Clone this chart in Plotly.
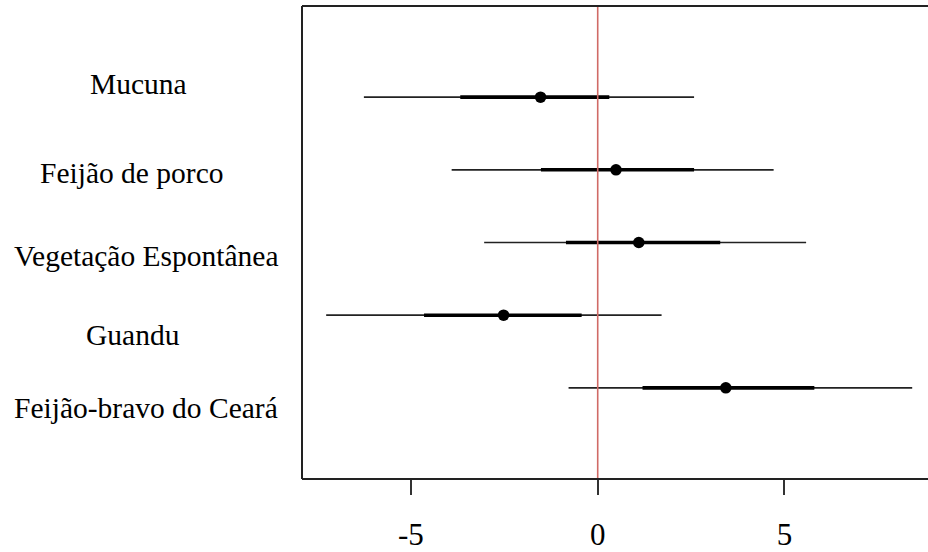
import plotly.graph_objects as go

# Coefficient estimates with inner (thick) and outer (thin) intervals
categories = ["Mucuna", "Feijão de porco", "Vegetação Espontânea", "Guandu", "Feijão-bravo do Ceará"]
estimate = [-1.53, 0.49, 1.10, -2.52, 3.43]
inner_lo = [-3.68, -1.52, -0.85, -4.65, 1.20]
inner_hi = [0.31, 2.58, 3.28, -0.43, 5.80]
outer_lo = [-6.26, -3.91, -3.04, -7.27, -0.78]
outer_hi = [2.58, 4.71, 5.58, 1.71, 8.42]
tick_vals = [-5, 0, 5]
tick_text = ["-5", "0", "5"]

n = len(categories)
rows = [n - i for i in range(n)]  # top row first

SERIF = "Liberation Serif, Times New Roman, serif"

def segments(lo, hi, ys):
    xs, yy = [], []
    for a, b, y in zip(lo, hi, ys):
        xs += [a, b, None]
        yy += [y, y, None]
    return xs, yy

fig = go.Figure()

ox, oy = segments(outer_lo, outer_hi, rows)
fig.add_trace(go.Scatter(x=ox, y=oy, mode="lines",
                         line=dict(color="#222222", width=1.7), hoverinfo="skip"))
ix, iy = segments(inner_lo, inner_hi, rows)
fig.add_trace(go.Scatter(x=ix, y=iy, mode="lines",
                         line=dict(color="#000000", width=3.6), hoverinfo="skip"))
fig.add_trace(go.Scatter(x=estimate, y=rows, mode="markers",
                         marker=dict(color="#000000", size=11.5),
                         text=categories, hovertemplate="%{text}: %{x}<extra></extra>"))

# zero reference line
fig.add_shape(type="line", xref="x", yref="paper", x0=0, x1=0, y0=0, y1=1,
              line=dict(color="#d06a66", width=1.6), layer="above")

# box frame (left, top, bottom)
frame = dict(color="#222222", width=2)
fig.add_shape(type="line", xref="paper", yref="paper", x0=0, x1=0, y0=0, y1=1, line=frame, layer="above")
fig.add_shape(type="line", xref="paper", yref="paper", x0=0, x1=1, y0=1, y1=1, line=frame, layer="above")
fig.add_shape(type="line", xref="paper", yref="paper", x0=0, x1=1, y0=0, y1=0, line=frame, layer="above")

# category labels on the left
label_x = [138, 132, 146, 133, 146]
label_y = [84, 174, 257, 336, 410]
H, T, B = 552, 6, 71
ph = H - T - B
for name, lx, ly in zip(categories, label_x, label_y):
    fig.add_annotation(text=name, xref="paper", yref="paper",
                       x=(lx - 302) / (928 - 302), y=(H - B - ly) / ph,
                       xanchor="center", yanchor="middle", showarrow=False,
                       font=dict(family=SERIF, size=29.5, color="#000000"))

fig.update_layout(
    width=928, height=552,
    margin=dict(l=302, r=0, t=T, b=B),
    paper_bgcolor="white", plot_bgcolor="white",
    showlegend=False,
    xaxis=dict(range=[-7.917, 8.843], tickvals=tick_vals, ticktext=tick_text,
               ticks="outside", ticklen=15, tickwidth=2, tickcolor="#333333",
               showgrid=False, zeroline=False, showline=False,
               tickfont=dict(family=SERIF, size=31, color="#000000"),
               ticklabelstandoff=13),
    yaxis=dict(range=[-0.254, 6.254], showticklabels=False, ticks="",
               showgrid=False, zeroline=False, showline=False),
)

fig.write_html("out.html")
